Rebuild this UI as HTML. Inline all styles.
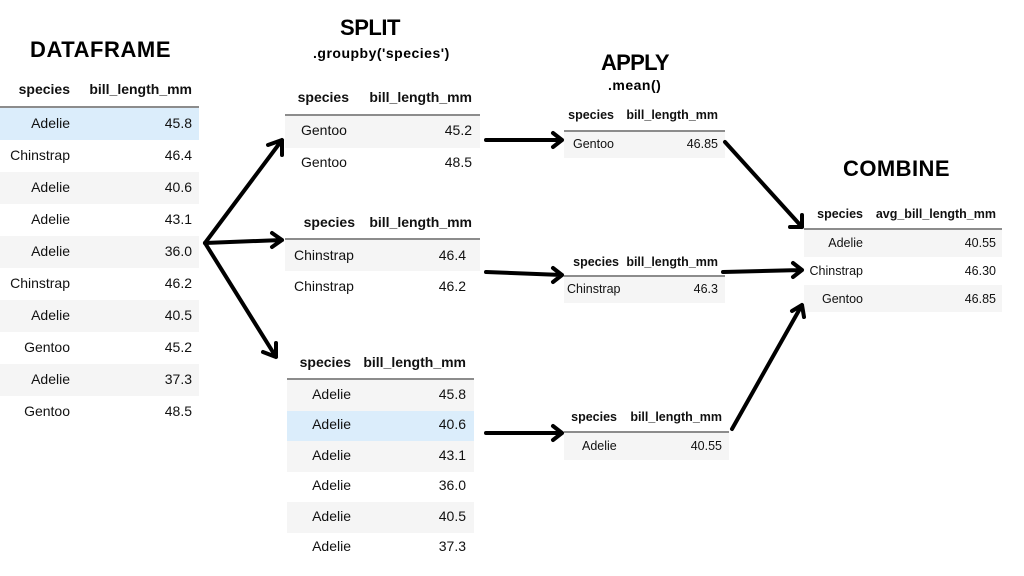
<!DOCTYPE html>
<html><head><meta charset="utf-8"><style>
html,body{margin:0;padding:0;background:#fff;width:1024px;height:576px;overflow:hidden}
svg{display:block}
text{font-family:"Liberation Sans",Arial,sans-serif;fill:#111}
.h{font-weight:bold;font-size:14px}
.hs{font-weight:bold;font-size:12.5px}
.d{font-size:14px}
.ds{font-size:12.5px}
.t{font-weight:900;font-size:22px;letter-spacing:1.5px;fill:#000}
.sub{font-weight:bold;font-size:14px;letter-spacing:0.5px;fill:#000}
.a{stroke:#000;stroke-width:4;fill:none;stroke-linecap:round;stroke-linejoin:round}
</style></head><body>
<svg width="1024" height="576" viewBox="0 0 1024 576">
<!-- titles -->
<text class="t" x="30" y="57" textLength="142">DATAFRAME</text>
<text class="t" x="340" y="35" textLength="62">SPLIT</text>
<text class="sub" x="313" y="58">.groupby('species')</text>
<text class="t" x="601" y="70" textLength="70">APPLY</text>
<text class="sub" x="608" y="90">.mean()</text>
<text class="t" x="843" y="176" textLength="108">COMBINE</text>

<!-- left dataframe -->
<rect x="0" y="108" width="199" height="32" fill="#dbedfb"/>
<rect x="0" y="172" width="199" height="32" fill="#f5f5f5"/>
<rect x="0" y="236" width="199" height="32" fill="#f5f5f5"/>
<rect x="0" y="300" width="199" height="32" fill="#f5f5f5"/>
<rect x="0" y="364" width="199" height="32" fill="#f5f5f5"/>
<line x1="0" y1="107" x2="199" y2="107" stroke="#666" stroke-width="1.5"/>
<text class="h" x="70" y="94" text-anchor="end">species</text>
<text class="h" x="192" y="94" text-anchor="end">bill_length_mm</text>
<g class="d" text-anchor="end">
<text x="70" y="128">Adelie</text><text x="192" y="128">45.8</text>
<text x="70" y="160">Chinstrap</text><text x="192" y="160">46.4</text>
<text x="70" y="192">Adelie</text><text x="192" y="192">40.6</text>
<text x="70" y="224">Adelie</text><text x="192" y="224">43.1</text>
<text x="70" y="256">Adelie</text><text x="192" y="256">36.0</text>
<text x="70" y="288">Chinstrap</text><text x="192" y="288">46.2</text>
<text x="70" y="320">Adelie</text><text x="192" y="320">40.5</text>
<text x="70" y="352">Gentoo</text><text x="192" y="352">45.2</text>
<text x="70" y="384">Adelie</text><text x="192" y="384">37.3</text>
<text x="70" y="416">Gentoo</text><text x="192" y="416">48.5</text>
</g>

<!-- split table 1 -->
<rect x="285" y="116" width="195" height="32" fill="#f5f5f5"/>
<line x1="285" y1="115" x2="480" y2="115" stroke="#666" stroke-width="1.5"/>
<text class="h" x="349" y="102" text-anchor="end">species</text>
<text class="h" x="472" y="102" text-anchor="end">bill_length_mm</text>
<g class="d"><text x="301" y="135">Gentoo</text><text x="301" y="167">Gentoo</text></g>
<g class="d" text-anchor="end"><text x="472" y="135">45.2</text><text x="472" y="167">48.5</text></g>

<!-- split table 2 -->
<rect x="285" y="240" width="195" height="31" fill="#f5f5f5"/>
<line x1="285" y1="239" x2="480" y2="239" stroke="#666" stroke-width="1.5"/>
<text class="h" x="355" y="227" text-anchor="end">species</text>
<text class="h" x="472" y="227" text-anchor="end">bill_length_mm</text>
<g class="d"><text x="294" y="260">Chinstrap</text><text x="294" y="291">Chinstrap</text></g>
<g class="d" text-anchor="end"><text x="466" y="260">46.4</text><text x="466" y="291">46.2</text></g>

<!-- split table 3 -->
<rect x="287" y="380" width="187" height="31" fill="#f5f5f5"/>
<rect x="287" y="411" width="187" height="30" fill="#dbedfb"/>
<rect x="287" y="441" width="187" height="31" fill="#f5f5f5"/>
<rect x="287" y="502" width="187" height="31" fill="#f5f5f5"/>
<line x1="287" y1="379" x2="474" y2="379" stroke="#666" stroke-width="1.5"/>
<text class="h" x="351" y="367" text-anchor="end">species</text>
<text class="h" x="466" y="367" text-anchor="end">bill_length_mm</text>
<g class="d" text-anchor="end">
<text x="351" y="399">Adelie</text><text x="466" y="399">45.8</text>
<text x="351" y="429">Adelie</text><text x="466" y="429">40.6</text>
<text x="351" y="460">Adelie</text><text x="466" y="460">43.1</text>
<text x="351" y="490">Adelie</text><text x="466" y="490">36.0</text>
<text x="351" y="521">Adelie</text><text x="466" y="521">40.5</text>
<text x="351" y="551">Adelie</text><text x="466" y="551">37.3</text>
</g>

<!-- apply tables -->
<rect x="564" y="132" width="161" height="26" fill="#f5f5f5"/>
<line x1="564" y1="131" x2="725" y2="131" stroke="#666" stroke-width="1.5"/>
<text class="hs" x="614" y="119" text-anchor="end">species</text>
<text class="hs" x="718" y="119" text-anchor="end">bill_length_mm</text>
<text class="ds" x="573" y="148">Gentoo</text>
<text class="ds" x="718" y="148" text-anchor="end">46.85</text>

<rect x="564" y="277" width="161" height="26" fill="#f5f5f5"/>
<line x1="564" y1="276" x2="725" y2="276" stroke="#666" stroke-width="1.5"/>
<text class="hs" x="619" y="266" text-anchor="end">species</text>
<text class="hs" x="718" y="266" text-anchor="end">bill_length_mm</text>
<text class="ds" x="567" y="293">Chinstrap</text>
<text class="ds" x="718" y="293" text-anchor="end">46.3</text>

<rect x="564" y="433" width="165" height="27" fill="#f5f5f5"/>
<line x1="564" y1="432" x2="729" y2="432" stroke="#666" stroke-width="1.5"/>
<text class="hs" x="617" y="421" text-anchor="end">species</text>
<text class="hs" x="722" y="421" text-anchor="end">bill_length_mm</text>
<text class="ds" x="582" y="450">Adelie</text>
<text class="ds" x="722" y="450" text-anchor="end">40.55</text>

<!-- combine -->
<rect x="804" y="230" width="198" height="27" fill="#f5f5f5"/>
<rect x="804" y="285" width="198" height="27" fill="#f5f5f5"/>
<line x1="804" y1="229" x2="1002" y2="229" stroke="#666" stroke-width="1.5"/>
<text class="hs" x="863" y="218" text-anchor="end">species</text>
<text class="hs" x="996" y="218" text-anchor="end">avg_bill_length_mm</text>
<g class="ds" text-anchor="end">
<text x="863" y="247">Adelie</text><text x="996" y="247">40.55</text>
<text x="863" y="275">Chinstrap</text><text x="996" y="275">46.30</text>
<text x="863" y="303">Gentoo</text><text x="996" y="303">46.85</text>
</g>

<!-- arrows -->
<g class="a">
<path d="M205 243 L282 140 M268 145 L282 140 L282 155"/>
<path d="M205 243 L282 240 M272 233 L282 240 L272 247"/>
<path d="M205 243 L276 357 M276 343 L276 357 L263 352"/>
<path d="M486 140 L562 140 M553 133 L562 140 L553 147"/>
<path d="M486 272 L562 275 M553 268 L562 275 L553 282"/>
<path d="M486 433 L562 433 M553 426 L562 433 L553 440"/>
<path d="M725 142 L802 227 M802 215 L802 227 L790 227"/>
<path d="M723 272 L802 270 M793 263 L802 270 L793 277"/>
<path d="M732 429 L802 305 M792 311 L802 305 L804 317"/>
</g>
</svg>
</body></html>
